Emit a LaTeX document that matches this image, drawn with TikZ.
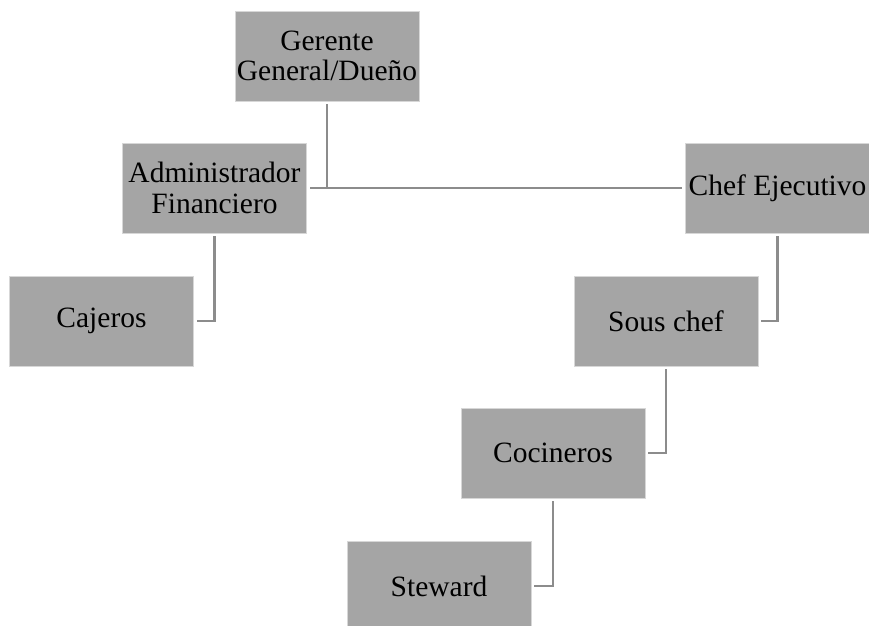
\documentclass[tikz,border=0pt]{standalone}
\usepackage{fontspec}
\setmainfont{Liberation Serif}
\usetikzlibrary{positioning}

\definecolor{cajagris}{RGB}{165,165,165}
\definecolor{bordegris}{RGB}{215,215,215}
\definecolor{lineagris}{RGB}{140,140,140}

\begin{document}
\begin{tikzpicture}[x=1pt,y=-1pt]
\tikzstyle{puesto}=[rectangle, fill=cajagris, draw=bordegris, line width=0.8pt,
  minimum width=184pt, minimum height=90pt, inner sep=0pt, align=center,
  font=\fontsize{29.5}{30.5}\selectfont]
\tikzstyle{enlace}=[draw=lineagris, line width=2.2pt, shorten <=3pt, shorten >=3pt]

 \useasboundingbox (0,0) rectangle (869,625);

 \node[puesto] (gerente) at (327,56) {Gerente\\General/Dueño};
 \node[puesto] (admin) at (214.5,188) {Administrador\\Financiero};
 \node[puesto] (chef) at (777.5,188) {Chef Ejecutivo};
 \node[puesto] (cajeros) at (101.5,321) {Cajeros};
 \node[puesto] (sous) at (666,321) {Sous chef};
 \node[puesto] (cocineros) at (553,453) {Cocineros};
 \node[puesto] (steward) at (439,586) {Steward};

 \draw[enlace] (gerente.south) |- (admin.east);
 \draw[enlace] (gerente.south) |- (chef.west);
 \draw[enlace] (admin.south) |- (cajeros.east);
 \draw[enlace] (chef.south) |- (sous.east);
 \draw[enlace] (sous.south) |- (cocineros.east);
 \draw[enlace] (cocineros.south) |- (steward.east);
\end{tikzpicture}
\end{document}
